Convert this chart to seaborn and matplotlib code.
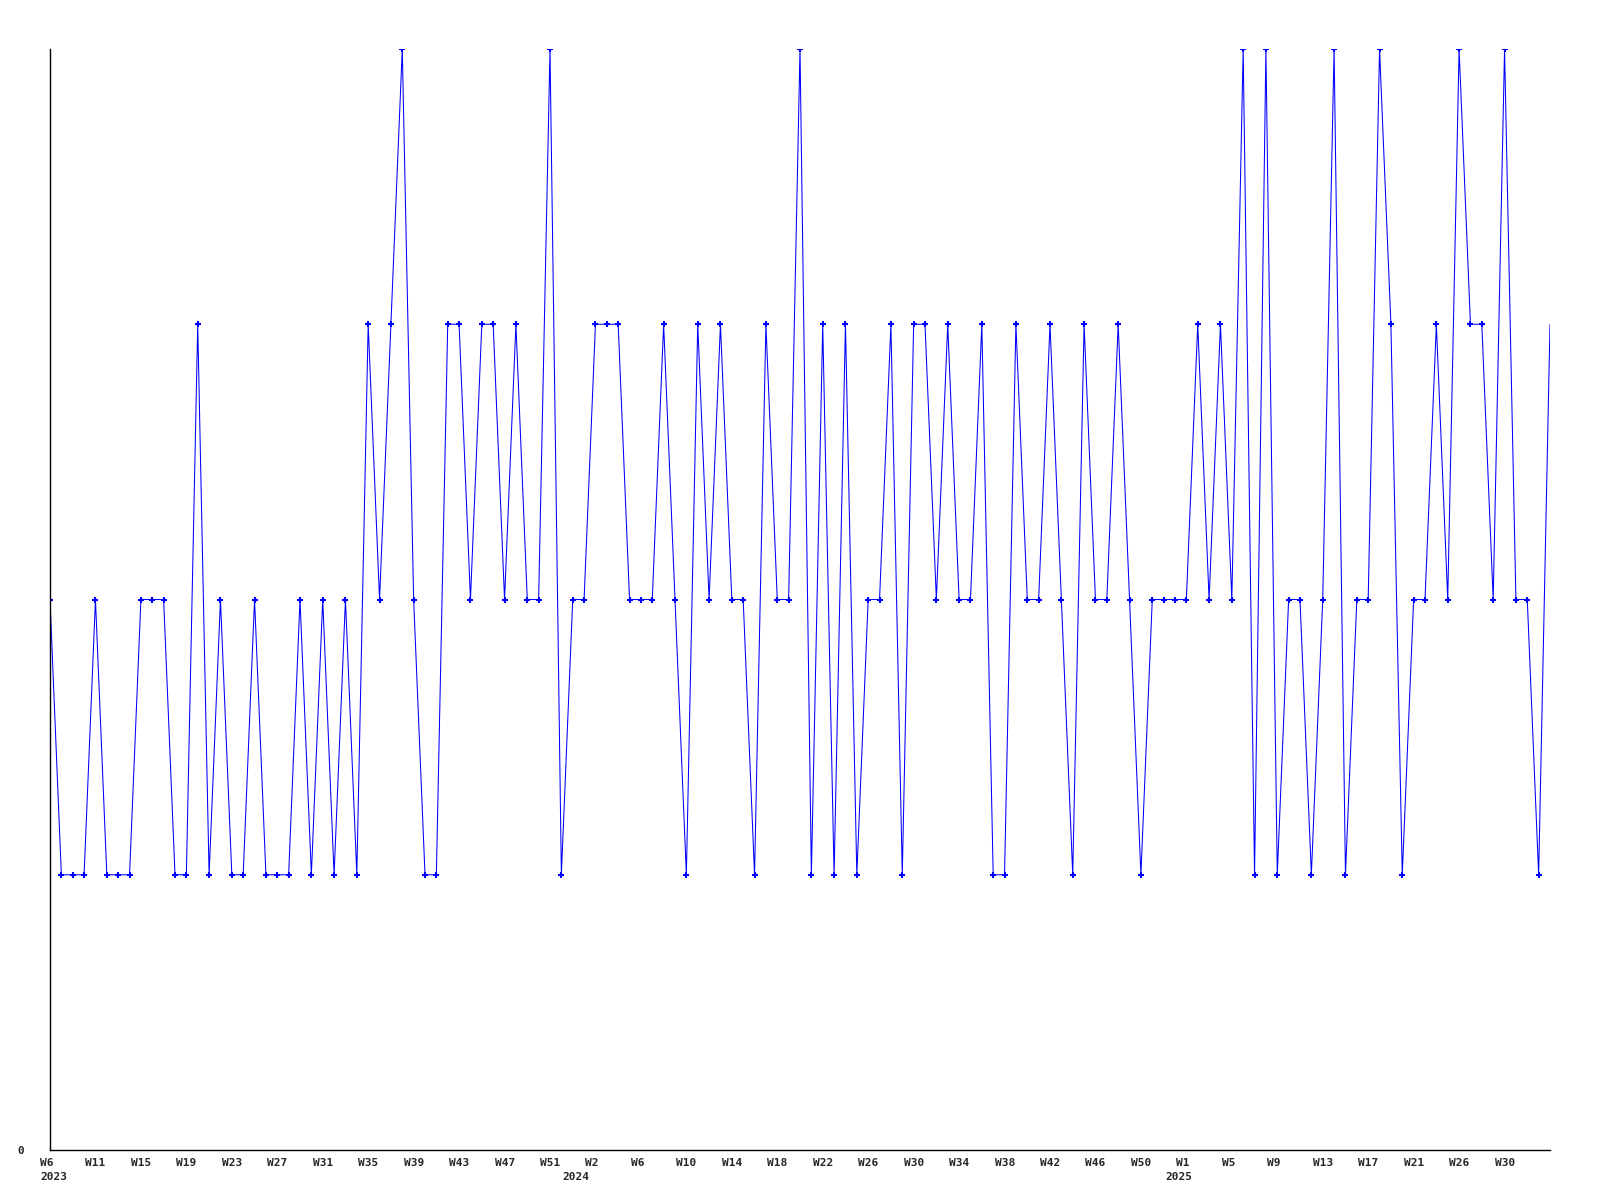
import matplotlib
matplotlib.use("Agg")
import matplotlib.pyplot as plt
import matplotlib.transforms as mtransforms
import seaborn as sns
import pandas as pd

# ---- data (weekly values, 2023 W6 .. 2025) ----
values = [2, 1, 1, 1, 2, 1, 1, 1, 2, 2,
          2, 1, 1, 3, 1, 2, 1, 1, 2, 1,
          1, 1, 2, 1, 2, 1, 2, 1, 3, 2,
          3, 4, 2, 1, 1, 3, 3, 2, 3, 3,
          2, 3, 2, 2, 4, 1, 2, 2, 3, 3,
          3, 2, 2, 2, 3, 2, 1, 3, 2, 3,
          2, 2, 1, 3, 2, 2, 4, 1, 3, 1,
          3, 1, 2, 2, 3, 1, 3, 3, 2, 3,
          2, 2, 3, 1, 1, 3, 2, 2, 3, 2,
          1, 3, 2, 2, 3, 2, 1, 2, 2, 2,
          2, 3, 2, 3, 2, 4, 1, 4, 1, 2,
          2, 1, 2, 4, 1, 2, 2, 4, 3, 1,
          2, 2, 3, 2, 4, 3, 3, 2, 4, 2,
          2, 1, 3]

# one label every 4th point
week_labels = ["W6", "W11", "W15", "W19", "W23", "W27", "W31", "W35", "W39", "W43", "W47",
               "W51", "W2", "W6", "W10", "W14", "W18", "W22", "W26", "W30", "W34", "W38", "W42",
               "W46", "W50", "W1", "W5", "W9", "W13", "W17", "W21", "W26", "W30"]
year_labels = ["2023", "2024", "2025"]
year_label_at = [0, 46, 99]

df = pd.DataFrame({"week": range(len(values)), "value": values})

sns.set_style("white")
plt.rcParams["font.family"] = ["DejaVu Sans Mono", "DejaVu Sans"]

fig = plt.figure(figsize=(16, 12), dpi=100)
ax = fig.add_axes([50 / 1600, 50 / 1200, 1500 / 1600, 1101 / 1200])

n = len(values)
sns.lineplot(data=df, x="week", y="value", ax=ax, color="#0000ff",
             linewidth=0.75, marker="+", markersize=3.8, markeredgewidth=1.5,
             markeredgecolor="#0000ff", markevery=list(range(n - 1)))

ax.set_xlim(0, n - 1)
ax.set_ylim(0, 4)
ax.set_xlabel("")
ax.set_ylabel("")

for side in ["top", "right"]:
    ax.spines[side].set_visible(False)
for side in ["left", "bottom"]:
    ax.spines[side].set_color("black")
    ax.spines[side].set_linewidth(1.0)

ax.set_xticks([])
ax.set_yticks([0])
ax.set_yticklabels(["0"], fontsize=8, fontweight="bold")
ax.tick_params(axis="y", length=0, pad=18.5)

trans = mtransforms.blended_transform_factory(ax.transData, ax.transAxes)
for k, lab in enumerate(week_labels):
    ax.annotate(lab, xy=(4 * k, 0), xycoords=trans, xytext=(-7.2, -9.4),
                textcoords="offset points", ha="left", va="center",
                fontsize=8, fontweight="bold", annotation_clip=False)
for lab, pos in zip(year_labels, year_label_at):
    ax.annotate(lab, xy=(pos, 0), xycoords=trans, xytext=(-7.2, -19.4),
                textcoords="offset points", ha="left", va="center",
                fontsize=8, fontweight="bold", annotation_clip=False)

fig.savefig("out.png", dpi=100)
